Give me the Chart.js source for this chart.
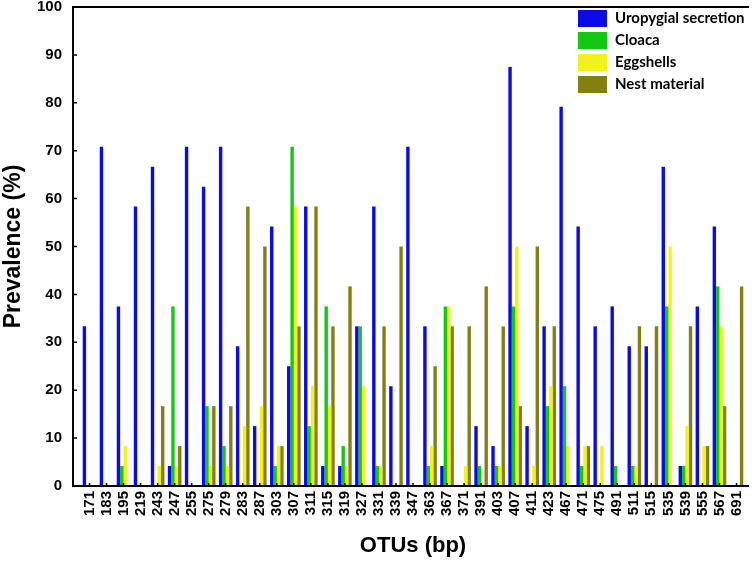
<!DOCTYPE html>
<html>
<head>
<meta charset="utf-8">
<title>OTU prevalence</title>
<script src="https://cdn.jsdelivr.net/npm/chart.js@4.4.0/dist/chart.umd.min.js"></script>
<style>
html, body { margin: 0; padding: 0; background: #fff; }
canvas { display: block; }
</style>
</head>
<body>
<canvas id="chart" width="755" height="561"></canvas>
<script>
// OTU sizes (bp)
const categories = ['171', '183', '195', '219', '243', '247', '255', '275', '279', '283', '287', '303', '307',
    '311', '315', '319', '327', '331', '339', '347', '363', '367', '371', '391', '403', '407', '411', '423',
    '467', '471', '475', '491', '511', '515', '535', '539', '555', '567', '691'];

// Prevalence (%) per sample type
const uropygial = [33.33, 70.83, 37.5, 58.33, 66.67, 4.17, 70.83, 62.5, 70.83, 29.17, 12.5, 54.17, 25,
    58.33, 4.17, 4.17, 33.33, 58.33, 20.83, 70.83, 33.33, 4.17, 0, 12.5, 8.33, 87.5, 12.5, 33.33,
    79.17, 54.17, 33.33, 37.5, 29.17, 29.17, 66.67, 4.17, 37.5, 54.17, 0];
const cloaca = [0, 0, 4.17, 0, 0, 37.5, 0, 16.67, 8.33, 0, 0, 4.17, 70.83,
    12.5, 37.5, 8.33, 33.33, 4.17, 0, 0, 4.17, 37.5, 0, 4.17, 4.17, 37.5, 0, 16.67,
    20.83, 4.17, 0, 4.17, 4.17, 0, 37.5, 4.17, 0, 41.67, 0];
const eggshells = [0, 0, 8.33, 0, 4.17, 4.17, 0, 4.17, 4.17, 12.5, 16.67, 8.33, 58.33,
    20.83, 16.67, 4.17, 20.83, 4.17, 0, 0, 8.33, 37.5, 4.17, 0, 4.17, 50, 4.17, 20.83,
    8.33, 8.33, 8.33, 0, 4.17, 0, 50, 12.5, 8.33, 33.33, 0];
const nestMaterial = [0, 0, 0, 0, 16.67, 8.33, 0, 16.67, 16.67, 58.33, 50, 8.33, 33.33,
    58.33, 33.33, 41.67, 0, 33.33, 50, 0, 25, 33.33, 33.33, 41.67, 33.33, 16.67, 50, 33.33,
    0, 8.33, 0, 0, 33.33, 33.33, 0, 33.33, 8.33, 16.67, 41.67];

const yTicks = [0, 10, 20, 30, 40, 50, 60, 70, 80, 90, 100];

const seriesColors = ['#0a0aeb', '#12c812', '#f2f21c', '#857f12'];

// axis frame, inner ticks and the legend box
const framePlugin = {
    id: 'frame',
    afterDatasetsDraw(chart) {
        const ctx = chart.ctx;
        const area = chart.chartArea;
        const x = chart.scales.x;
        const y = chart.scales.y;
        const axisX = area.left - 8;
        const rightX = area.right + 4;

        ctx.save();
        ctx.strokeStyle = '#000';
        ctx.lineWidth = 2;
        ctx.beginPath();
        ctx.moveTo(rightX, area.top);
        ctx.lineTo(axisX, area.top);
        ctx.lineTo(axisX, area.bottom);
        ctx.lineTo(rightX, area.bottom);
        ctx.stroke();

        ctx.lineWidth = 1.5;
        ctx.beginPath();
        yTicks.forEach(v => {
            const py = y.getPixelForValue(v);
            ctx.moveTo(axisX, py);
            ctx.lineTo(axisX + 4, py);
        });
        categories.forEach((c, i) => {
            const px = x.getPixelForValue(i);
            ctx.moveTo(px, area.bottom);
            ctx.lineTo(px, area.bottom - 3);
        });
        ctx.stroke();

        // legend
        ctx.font = 'bold 15px Lato';
        ctx.textBaseline = 'middle';
        ctx.textAlign = 'left';
        chart.data.datasets.forEach((ds, i) => {
            const cy = area.top + 11.5 + i * 22;
            ctx.fillStyle = ds.backgroundColor;
            ctx.fillRect(578, cy - 8.5, 29, 17);
            ctx.fillStyle = '#000';
            ctx.fillText(ds.label, 615, cy);
        });
        ctx.restore();
    }
};

new Chart(document.getElementById('chart'), {
    type: 'bar',
    data: {
        labels: categories,
        datasets: [
            { label: 'Uropygial secretion', data: uropygial, backgroundColor: seriesColors[0] },
            { label: 'Cloaca', data: cloaca, backgroundColor: seriesColors[1] },
            { label: 'Eggshells', data: eggshells, backgroundColor: seriesColors[2] },
            { label: 'Nest material', data: nestMaterial, backgroundColor: seriesColors[3] }
        ]
    },
    options: {
        responsive: false,
        animation: false,
        devicePixelRatio: 1,
        layout: { padding: { top: 7, right: 10, left: 0, bottom: 0 } },
        datasets: {
            bar: { categoryPercentage: 0.8, barPercentage: 1.0, borderWidth: 0 }
        },
        plugins: {
            legend: { display: false },
            tooltip: { enabled: false }
        },
        scales: {
            x: {
                grid: { display: false, drawTicks: false },
                border: { display: false },
                ticks: {
                    color: '#000',
                    font: { family: 'Liberation Sans', size: 15, weight: 'bold' },
                    minRotation: 90,
                    maxRotation: 90,
                    autoSkip: false,
                    padding: 5
                },
                title: {
                    display: true,
                    text: 'OTUs (bp)',
                    color: '#000',
                    font: { family: 'Liberation Sans', size: 22, weight: 'bold' },
                    padding: { top: 0, bottom: 2 }
                },
                afterFit(scale) {
                    scale.height = 75;
                    scale.paddingLeft = 0;
                    scale.paddingRight = 0;
                }
            },
            y: {
                min: 0,
                max: 100,
                grid: { display: false, drawTicks: false },
                border: { display: false },
                ticks: {
                    stepSize: 10,
                    color: '#000',
                    font: { family: 'Liberation Sans', size: 15, weight: 'bold' },
                    padding: 19
                },
                title: {
                    display: true,
                    text: 'Prevalence (%)',
                    color: '#000',
                    font: { family: 'Liberation Sans', size: 23, weight: 'bold' },
                    padding: { top: 0, bottom: 0 }
                },
                afterFit(scale) {
                    scale.width = 81;
                    scale.paddingTop = 0;
                    scale.paddingBottom = 0;
                }
            }
        }
    },
    plugins: [framePlugin]
});
</script>
</body>
</html>
